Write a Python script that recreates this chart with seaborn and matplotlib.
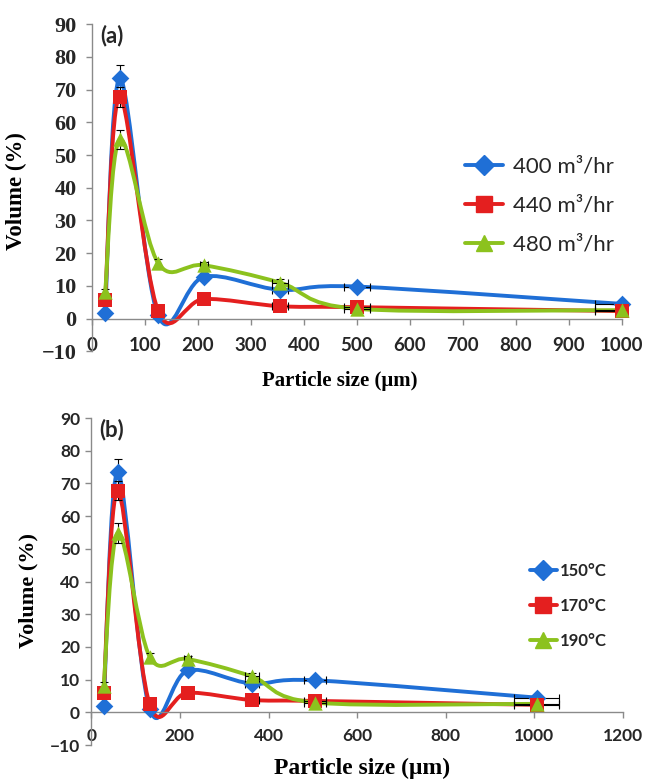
import numpy as np
import pandas as pd
import matplotlib
matplotlib.use("Agg")
import matplotlib.pyplot as plt
import seaborn as sns
from matplotlib.path import Path
from matplotlib.patches import PathPatch
from matplotlib.lines import Line2D

# =========================
# DATA
# =========================

size_a = [25, 53, 125, 212, 355, 500, 1000]
size_b = [28, 60, 132, 218, 362, 505, 1005]
size_err = [0, 0, 0, 8, 16, 25, 50]

vol_blue = [1.8, 73.5, 1.0, 12.8, 8.8, 9.8, 4.5]
vol_red = [5.8, 67.8, 2.4, 6.0, 3.8, 3.5, 2.3]
vol_green = [8.0, 54.8, 17.0, 16.3, 11.0, 3.0, 2.6]

err_blue = [1.0, 4.0, 0.5, 1.0, 1.0, 0.5, 0.5]
err_red = [1.0, 3.0, 0.5, 0.5, 0.5, 0.5, 0.5]
err_green = [1.2, 3.0, 1.3, 1.0, 1.0, 0.5, 0.5]

labels_a = ["400 m³/hr", "440 m³/hr", "480 m³/hr"]
labels_b = ["150°C", "170°C", "190°C"]

colors = ["#1f6fd6", "#e41f1f", "#8cc21e"]
markers = ["D", "s", "^"]
marker_px = [10, 11, 11.5]

SERIF = "Liberation Serif"
SANS = "Lato"
GRAY = "#8a8a8a"
LW = 2.8

sns.set_theme(style="white")
plt.rcParams["font.family"] = [SANS, "DejaVu Sans"]


def smooth_path(x, y):
    # excel-like smoothed line, bezier segments through the data points
    pts = np.column_stack([x, y]).astype(float)
    n = len(pts)
    verts = [pts[0]]
    codes = [Path.MOVETO]
    for i in range(n - 1):
        p0 = pts[max(i - 1, 0)]
        p1 = pts[i]
        p2 = pts[i + 1]
        p3 = pts[min(i + 2, n - 1)]
        verts += [p1 + (p2 - p0) / 6, p2 - (p3 - p1) / 6, p2]
        codes += [Path.CURVE4] * 3
    return Path(verts, codes)


def draw_panel(ax, sizes, labels, xmax, xstep):
    series = [vol_blue, vol_red, vol_green]
    errs = [err_blue, err_red, err_green]

    df = pd.DataFrame({
        "size": sizes * 3,
        "volume": vol_blue + vol_red + vol_green,
        "series": [labels[0]] * 7 + [labels[1]] * 7 + [labels[2]] * 7,
    })

    for vals, col in zip(series, colors):
        ax.add_patch(PathPatch(smooth_path(sizes, vals), fill=False,
                               edgecolor=col, lw=LW, zorder=2,
                               capstyle="round", joinstyle="round"))

    for vals, e, col in zip(series, errs, colors):
        ax.errorbar(sizes, vals, yerr=e, xerr=size_err, fmt="none",
                    ecolor="black", elinewidth=0.8, capsize=3,
                    capthick=0.8, zorder=3)

    for i, lab in enumerate(labels):
        sub = df[df["series"] == lab]
        sns.scatterplot(data=sub, x="size", y="volume", ax=ax,
                        marker=markers[i], color=colors[i],
                        s=(marker_px[i] * 0.72 * 1.25) ** 2,
                        linewidth=0, zorder=4 + i, clip_on=False,
                        legend=False)

    ax.set_xlim(0, xmax)
    ax.set_ylim(-10, 90)
    ax.set_xticks(np.arange(0, xmax + 1, xstep))
    ax.set_yticks(np.arange(-10, 91, 10))

    ax.spines["top"].set_visible(False)
    ax.spines["right"].set_visible(False)
    ax.spines["bottom"].set_position(("data", 0))
    for sp in ["left", "bottom"]:
        ax.spines[sp].set_color(GRAY)
        ax.spines[sp].set_linewidth(1.0)
    ax.tick_params(axis="both", direction="out", length=4, width=1,
                   color=GRAY, left=True, bottom=True)
    ax.grid(False)

    handles = [Line2D([], [], color=c, lw=LW, marker=m, markersize=ms)
               for c, m, ms in zip(colors, markers, marker_px)]
    return handles


fig = plt.figure(figsize=(6.47, 7.79), dpi=100)

# =========================
# PANEL (a)
# =========================

ax1 = fig.add_axes([0.142, 0.549, 0.819, 0.420])
h1 = draw_panel(ax1, size_a, labels_a, 1000, 100)

ax1.tick_params(axis="x", pad=9)
ax1.tick_params(axis="y", pad=7)
for t in ax1.get_yticklabels():
    t.set_fontfamily(SERIF)
    t.set_fontweight("bold")
    t.set_fontsize(16)
for t in ax1.get_xticklabels():
    t.set_fontfamily(SANS)
    t.set_fontweight("bold")
    t.set_fontsize(13.5)

ax1.set_xlabel("Particle size (μm)", fontfamily=SERIF, fontweight="bold",
               fontsize=15, color="black")
ax1.xaxis.set_label_coords(0.468, -0.092)
ax1.xaxis.label.set_va("center")
ax1.set_ylabel("Volume (%)", fontfamily=SERIF, fontweight="bold",
               fontsize=16.5, color="black")
ax1.yaxis.set_label_coords(-0.142, 0.49)
ax1.yaxis.label.set_va("center")

ax1.text(0.015, 0.997, "(a)", transform=ax1.transAxes, ha="left", va="top",
         fontfamily=SANS, fontweight="bold", fontsize=16)

ax1.legend(h1, labels_a, loc="center left", bbox_to_anchor=(0.705, 0.446),
           frameon=False, prop={"family": SANS, "size": 16},
           handlelength=1.7, handletextpad=0.45, labelspacing=0.85,
           borderpad=0, borderaxespad=0)

# =========================
# PANEL (b)
# =========================

ax2 = fig.add_axes([0.141, 0.0436, 0.822, 0.4197])
h2 = draw_panel(ax2, size_b, labels_b, 1200, 200)

ax2.tick_params(axis="x", pad=7)
ax2.tick_params(axis="y", pad=4)
for t in ax2.get_yticklabels() + ax2.get_xticklabels():
    t.set_fontfamily(SANS)
    t.set_fontweight("bold")
    t.set_fontsize(12.5)

ax2.set_xlabel("Particle size (μm)", fontfamily=SERIF, fontweight="bold",
               fontsize=17, color="black")
ax2.xaxis.set_label_coords(0.509, -0.07)
ax2.xaxis.label.set_va("center")
ax2.set_ylabel("Volume (%)", fontfamily=SERIF, fontweight="bold",
               fontsize=16, color="black")
ax2.yaxis.set_label_coords(-0.118, 0.474)
ax2.yaxis.label.set_va("center")

ax2.text(0.015, 0.997, "(b)", transform=ax2.transAxes, ha="left", va="top",
         fontfamily=SANS, fontweight="bold", fontsize=16)

ax2.legend(h2, labels_b, loc="center left", bbox_to_anchor=(0.825, 0.425),
           frameon=False, prop={"family": SANS, "size": 12, "weight": "bold"},
           handlelength=1.6, handletextpad=0.2, labelspacing=1.15,
           borderpad=0, borderaxespad=0)

fig.savefig("out.png", dpi=100)
